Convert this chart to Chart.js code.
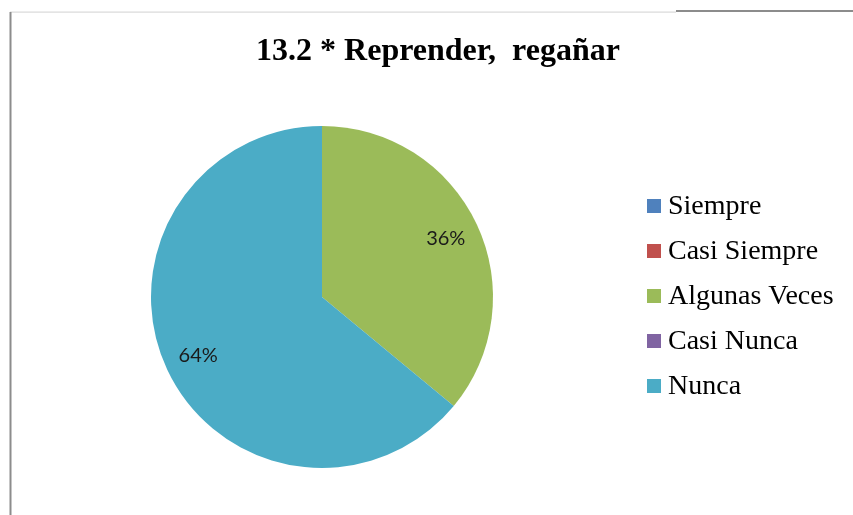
<!DOCTYPE html>
<html>
<head>
<meta charset="utf-8">
<script src="https://cdn.jsdelivr.net/npm/chart.js@4/dist/chart.umd.min.js"></script>
<style>
html,body{margin:0;padding:0;background:#fff;}
#wrap{position:relative;width:853px;height:515px;}
</style>
</head>
<body>
<div id="wrap"><canvas id="c" width="853" height="515"></canvas></div>
<script>
const titleText = "13.2 * Reprender,  regañar";
const categories = ["Siempre", "Casi Siempre", "Algunas Veces", "Casi Nunca", "Nunca"];
const values = [0, 0, 36, 0, 64];
const colors = ["#4F81BD", "#C0504D", "#9BBB59", "#8064A2", "#4BACC6"];

const framePlugin = {
  id: 'frame',
  beforeDraw(chart) {
    const ctx = chart.ctx;
    ctx.save();
    ctx.fillStyle = '#fff';
    ctx.fillRect(0, 0, chart.width, chart.height);
    ctx.fillStyle = '#d9d9d9';
    ctx.fillRect(10, 11.5, 666, 1.2);
    ctx.fillStyle = '#8c8c8c';
    ctx.fillRect(676, 10, 177, 2);
    ctx.fillRect(9.5, 12, 2, chart.height - 12);
    ctx.restore();
  }
};

const textPlugin = {
  id: 'texts',
  afterDraw(chart) {
    const ctx = chart.ctx;
    ctx.save();
    // title
    ctx.fillStyle = '#000';
    ctx.font = 'bold 32px "Liberation Serif", "Times New Roman", serif';
    ctx.textAlign = 'center';
    ctx.textBaseline = 'alphabetic';
    ctx.fillText(titleText, 438, 60);
    // data labels
    const meta = chart.getDatasetMeta(0);
    const total = values.reduce((a, b) => a + b, 0);
    ctx.font = '20px Lato, "Open Sans", sans-serif';
    ctx.fillStyle = '#1a1a1a';
    ctx.textBaseline = 'middle';
    meta.data.forEach((arc, i) => {
      if (!values[i]) return;
      const p = arc.getProps(['x', 'y', 'startAngle', 'endAngle', 'outerRadius'], true);
      const mid = (p.startAngle + p.endAngle) / 2;
      const r = p.outerRadius * 0.8;
      const pct = Math.round(values[i] / total * 100) + '%';
      ctx.fillText(pct, p.x + Math.cos(mid) * r, p.y + Math.sin(mid) * r);
    });
    // legend
    ctx.textAlign = 'left';
    ctx.font = '28px "Liberation Serif", "Times New Roman", serif';
    categories.forEach((name, i) => {
      const y = 206 + i * 45;
      ctx.fillStyle = colors[i];
      ctx.fillRect(647, y - 7, 14, 14);
      ctx.fillStyle = '#000';
      ctx.fillText(name, 668, y + 1);
    });
    ctx.restore();
  }
};

new Chart(document.getElementById('c'), {
  type: 'pie',
  data: {
    labels: categories,
    datasets: [{
      data: values,
      backgroundColor: colors,
      borderWidth: 0
    }]
  },
  options: {
    responsive: false,
    animation: false,
    layout: { padding: { left: 151, right: 360, top: 126, bottom: 47 } },
    plugins: {
      legend: { display: false },
      title: { display: false },
      tooltip: { enabled: false }
    }
  },
  plugins: [framePlugin, textPlugin]
});
</script>
</body>
</html>
